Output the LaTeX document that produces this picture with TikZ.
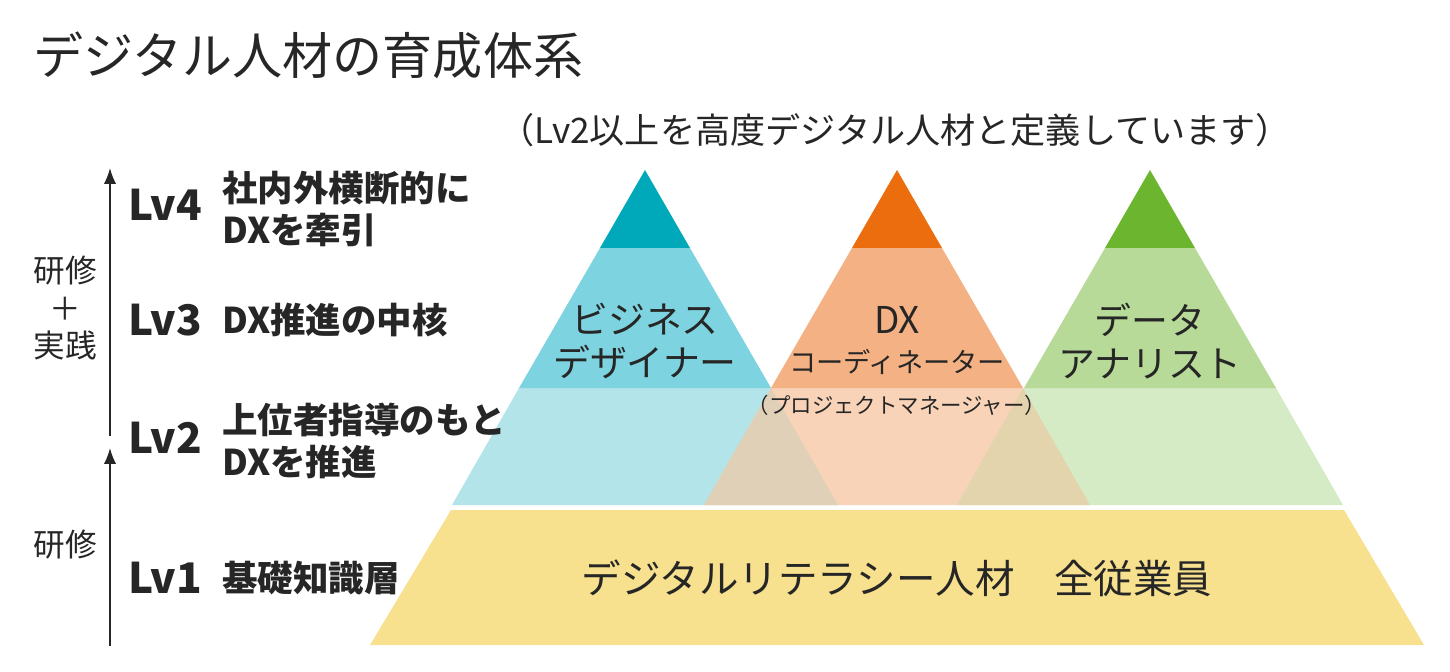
\documentclass[tikz,border=0pt]{standalone}
\usepackage{fontspec}
\setmainfont{Noto Sans CJK JP}
\begin{document}
\begin{tikzpicture}[x=0.02cm,y=-0.02cm,
  lbl/.style={font=\fontsize{20}{24}\selectfont, text=black!85, inner sep=0pt},
  lvl/.style={font=\fontsize{24}{28}\selectfont\bfseries, text=black!85, inner sep=0pt, anchor=west},
  lvt/.style={font=\fontsize{20.2}{24}\selectfont\bfseries, text=black!85, inner sep=0pt, anchor=west, align=left},
  axis/.style={-{Latex[length=9pt,width=7pt]}, line width=1pt, black!85}]
\usetikzlibrary{arrows.meta}
\definecolor{cA}{HTML}{00A9BA}\definecolor{cB}{HTML}{7DD3DF}\definecolor{cC}{HTML}{B2E4EA}
\definecolor{oA}{HTML}{EB6D0E}\definecolor{oB}{HTML}{F4B183}\definecolor{oC}{HTML}{F8D3B8}
\definecolor{gA}{HTML}{6CB52E}\definecolor{gB}{HTML}{B7DA98}\definecolor{gC}{HTML}{D5EBC5}
\definecolor{t1}{HTML}{E0D0B8}\definecolor{t2}{HTML}{E3D4AE}\definecolor{yel}{HTML}{F7E08E}
\useasboundingbox (0,0) rectangle (1450,672);
\foreach \cx/\a/\b/\c in {645/cA/cB/cC,897/oA/oB/oC,1150/gA/gB/gC}{
  \fill[\c] (\cx-126,388) -- (\cx+126,388) -- (\cx+193,505) -- (\cx-193,505) -- cycle;
  \fill[\b] (\cx-45,248) -- (\cx+45,248) -- (\cx+126,388) -- (\cx-126,388) -- cycle;
  \fill[\a] (\cx,170) -- (\cx+45,248) -- (\cx-45,248) -- cycle;
}
\fill[t1] (771,388) -- (838,505) -- (704,505) -- cycle;
\fill[t2] (1023,388) -- (1090,505) -- (957,505) -- cycle;
\fill[yel] (451,510) -- (1344,510) -- (1424,645) -- (370,645) -- cycle;
\node[anchor=west, inner sep=0pt, font=\fontsize{28.5}{32}\selectfont, text=black!85] (title) at (33,55) {デジタル人材の育成体系};
\node[lbl, font=\fontsize{20}{24}\selectfont] (sub) at (895,130) {（Lv2以上を高度デジタル人材と定義しています）};
\node[lvl] (l4) at (128,205) {Lv4};
\node[lvt] (t4) at (222,209) {社内外横断的に\\DXを牽引};
\node[lvl] (l3) at (128,320) {Lv3};
\node[lvt] (t3) at (222,320) {DX推進の中核};
\node[lvl] (l2) at (128,438) {Lv2};
\node[lvt] (t2) at (222,441) {上位者指導のもと\\DXを推進};
\node[lvl] (l1) at (128,578) {Lv1};
\node[lvt] (t1) at (222,578) {基礎知識層};
\coordinate (a1s) at (110,436); \coordinate (a1e) at (110,168);
\coordinate (a2s) at (110,646); \coordinate (a2e) at (110,448);
\draw[axis] (a1s) -- (a1e);
\draw[axis] (a2s) -- (a2e);
\node[lbl, align=center, font=\fontsize{18}{21.5}\selectfont] (k1) at (65,308) {研修\\＋\\実践};
\node[lbl, font=\fontsize{18}{21}\selectfont] (k2) at (65,545) {研修};
\node[lbl, align=center, font=\fontsize{21}{24}\selectfont] (p1) at (645,341) {ビジネス\\デザイナー};
\node[lbl, font=\fontsize{21}{24}\selectfont] (p2a) at (897,320) {DX};
\node[lbl, font=\fontsize{15.5}{18}\selectfont] (p2b) at (897,362) {コーディネーター};
\node[lbl, font=\fontsize{12.2}{15}\selectfont] (p2c) at (897,405) {（プロジェクトマネージャー）};
\node[lbl, align=center, font=\fontsize{21}{24}\selectfont] (p3) at (1150,341) {データ\\アナリスト};
\node[lbl, font=\fontsize{22.5}{26}\selectfont] (p4) at (897,578) {デジタルリテラシー人材　全従業員};
\end{tikzpicture}
\end{document}
